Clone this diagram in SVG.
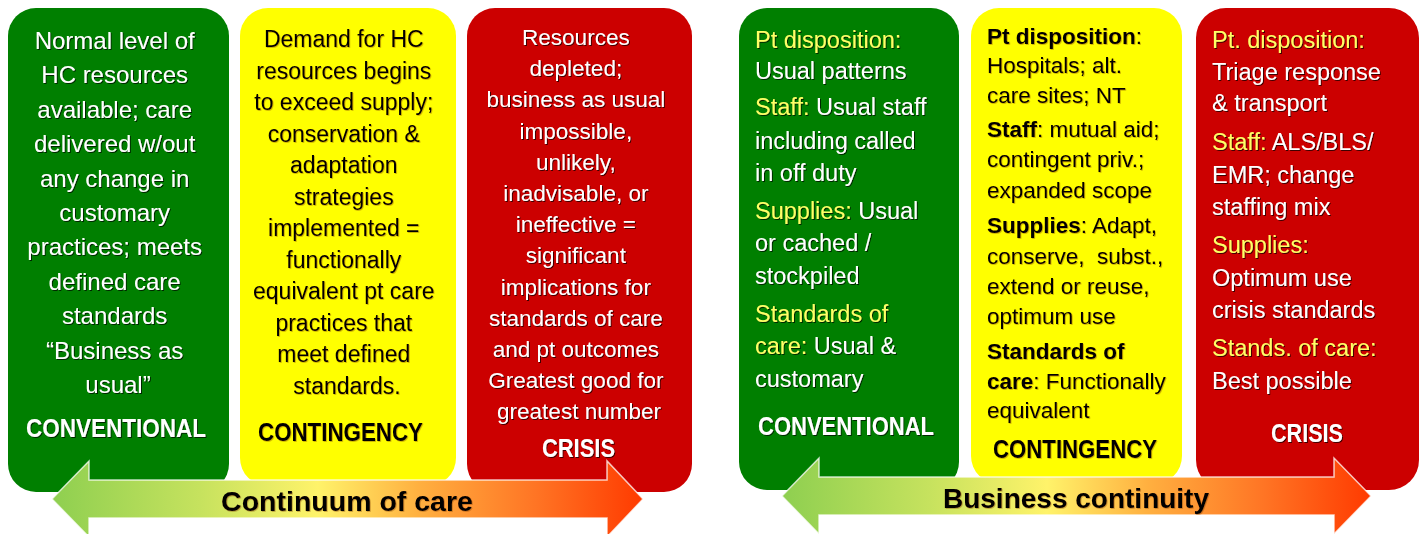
<svg xmlns="http://www.w3.org/2000/svg" width="1424" height="534" viewBox="0 0 1424 534">
<defs>
<linearGradient id="ag" x1="0" y1="0" x2="1" y2="0">
<stop offset="0" stop-color="#8ecf50"/>
<stop offset="0.25" stop-color="#c6e25e"/>
<stop offset="0.45" stop-color="#fff36a"/>
<stop offset="0.62" stop-color="#ffb040"/>
<stop offset="0.82" stop-color="#ff7424"/>
<stop offset="1" stop-color="#ff3a00"/>
</linearGradient>
<filter id="sh" x="-10%" y="-10%" width="120%" height="130%">
<feDropShadow dx="1" dy="1" stdDeviation="0.6" flood-color="#000" flood-opacity="0.7"/>
</filter>
<filter id="shy" x="-10%" y="-10%" width="120%" height="130%">
<feDropShadow dx="0.8" dy="0.8" stdDeviation="0.5" flood-color="#7a3b00" flood-opacity="0.45"/>
</filter>
</defs>
<style>
text{font-family:"Liberation Sans",Arial,sans-serif}
.g{fill:#007f00}.y{fill:#ffff00}.r{fill:#cc0000}
.w{fill:#ffffff;filter:url(#sh)}
.k{fill:#000000;filter:url(#shy)}
.lb{fill:#ffff66}
.h{font-weight:bold;font-size:25px;text-anchor:middle}
.c{text-anchor:middle}
.b{font-weight:bold}
.arrow{fill:url(#ag);stroke:#ffffff;stroke-opacity:0.75;stroke-width:1.5}
.at{font-weight:bold;fill:#000;text-anchor:middle;filter:url(#shy)}
</style>

<g id="conventional-care">
<rect class="g" x="8" y="8" width="221" height="484" rx="28"/>
<text class="w c" font-size="24">
<tspan x="118" y="49">Normal level of</tspan>
<tspan x="118" y="83.4">HC  resources</tspan>
<tspan x="118" y="117.8">available; care</tspan>
<tspan x="118" y="152.2">delivered w/out</tspan>
<tspan x="118" y="186.6">any change in</tspan>
<tspan x="118" y="221">customary</tspan>
<tspan x="118" y="255.4">practices; meets</tspan>
<tspan x="118" y="289.8">defined care</tspan>
<tspan x="118" y="324.2">standards</tspan>
<tspan x="118" y="358.6">“Business as</tspan>
<tspan x="118" y="393">usual”</tspan>
</text>
<text class="w h" x="116" y="437" textLength="180" lengthAdjust="spacingAndGlyphs">CONVENTIONAL</text>
</g>

<g id="contingency-care">
<rect class="y" x="240" y="8" width="216" height="478" rx="28"/>
<text class="k c" font-size="23">
<tspan x="347" y="47">Demand for HC</tspan>
<tspan x="347" y="78.5">resources begins</tspan>
<tspan x="347" y="110">to exceed supply;</tspan>
<tspan x="347" y="141.5">conservation &amp;</tspan>
<tspan x="347" y="173">adaptation</tspan>
<tspan x="347" y="204.5">strategies</tspan>
<tspan x="347" y="236">implemented =</tspan>
<tspan x="347" y="267.5">functionally</tspan>
<tspan x="347" y="299">equivalent pt care</tspan>
<tspan x="347" y="330.5">practices that</tspan>
<tspan x="347" y="362">meet defined</tspan>
<tspan x="347" y="393.5">standards.</tspan>
</text>
<text class="k h" x="340.5" y="441" textLength="165" lengthAdjust="spacingAndGlyphs">CONTINGENCY</text>
</g>

<g id="crisis-care">
<rect class="r" x="467" y="8" width="225" height="484" rx="28"/>
<text class="w c" font-size="22.5">
<tspan x="579" y="45">Resources</tspan>
<tspan x="579" y="76.2">depleted;</tspan>
<tspan x="579" y="107.4">business as usual</tspan>
<tspan x="579" y="138.6">impossible,</tspan>
<tspan x="579" y="169.8">unlikely,</tspan>
<tspan x="579" y="201">inadvisable, or</tspan>
<tspan x="579" y="232.2">ineffective =</tspan>
<tspan x="579" y="263.4">significant</tspan>
<tspan x="579" y="294.6">implications for</tspan>
<tspan x="579" y="325.8">standards of care</tspan>
<tspan x="579" y="357">and pt outcomes</tspan>
<tspan x="579" y="388.2">Greatest good for</tspan>
<tspan x="579" y="419.4">greatest number</tspan>
</text>
<text class="w h" x="578.5" y="457" textLength="73" lengthAdjust="spacingAndGlyphs">CRISIS</text>
</g>

<g id="conventional-business">
<rect class="g" x="739" y="8" width="220" height="482" rx="28"/>
<g class="w" font-size="23.5">
<text x="755" y="48"><tspan class="lb">Pt disposition:</tspan></text>
<text x="755" y="79">Usual patterns</text>
<text x="755" y="115"><tspan class="lb">Staff:</tspan> Usual staff</text>
<text x="755" y="149">including called</text>
<text x="755" y="181">in off duty</text>
<text x="755" y="219"><tspan class="lb">Supplies:</tspan> Usual</text>
<text x="755" y="251">or cached /</text>
<text x="755" y="284">stockpiled</text>
<text x="755" y="322"><tspan class="lb">Standards of</tspan></text>
<text x="755" y="354"><tspan class="lb">care:</tspan> Usual &amp;</text>
<text x="755" y="387">customary</text>
</g>
<text class="w h" x="846" y="435" textLength="176" lengthAdjust="spacingAndGlyphs">CONVENTIONAL</text>
</g>

<g id="contingency-business">
<rect class="y" x="971" y="8" width="211" height="476" rx="28"/>
<g class="k" font-size="22.5">
<text x="987" y="44"><tspan class="b">Pt disposition</tspan>:</text>
<text x="987" y="73">Hospitals; alt.</text>
<text x="987" y="103">care sites; NT</text>
<text x="987" y="137"><tspan class="b">Staff</tspan>: mutual aid;</text>
<text x="987" y="167">contingent priv.;</text>
<text x="987" y="198">expanded scope</text>
<text x="987" y="233"><tspan class="b">Supplies</tspan>: Adapt,</text>
<text x="987" y="264" xml:space="preserve">conserve,  subst.,</text>
<text x="987" y="294">extend or reuse,</text>
<text x="987" y="324">optimum use</text>
<text x="987" y="359"><tspan class="b">Standards of</tspan></text>
<text x="987" y="389"><tspan class="b">care</tspan>: Functionally</text>
<text x="987" y="418">equivalent</text>
</g>
<text class="k h" x="1075" y="458" textLength="164" lengthAdjust="spacingAndGlyphs">CONTINGENCY</text>
</g>

<g id="crisis-business">
<rect class="r" x="1196" y="8" width="223" height="482" rx="30"/>
<g class="w" font-size="23.5">
<text x="1212" y="48"><tspan class="lb">Pt. disposition:</tspan></text>
<text x="1212" y="80">Triage response</text>
<text x="1212" y="111">&amp; transport</text>
<text x="1212" y="150"><tspan class="lb">Staff:</tspan> ALS/BLS/</text>
<text x="1212" y="183">EMR; change</text>
<text x="1212" y="215">staffing mix</text>
<text x="1212" y="253"><tspan class="lb">Supplies:</tspan></text>
<text x="1212" y="286">Optimum use</text>
<text x="1212" y="318">crisis standards</text>
<text x="1212" y="356"><tspan class="lb">Stands. of care:</tspan></text>
<text x="1212" y="389">Best possible</text>
</g>
<text class="w h" x="1307" y="442" textLength="72" lengthAdjust="spacingAndGlyphs">CRISIS</text>
</g>

<g id="connectors">
<g id="continuum-of-care">
<polygon class="arrow" points="52,499 89,461 89,480 607,480 607,461 643,499 607,537 607,518 89,518 89,537"/>
<text class="at" x="347" y="511" font-size="28.5">Continuum of care</text>
</g>
<g id="business-continuity">
<polygon class="arrow" points="782,496 819,458 819,477 1334,477 1334,458 1371,496 1334,534 1334,515 819,515 819,534"/>
<text class="at" x="1076" y="508" font-size="28">Business continuity</text>
</g>
</g>
</svg>
